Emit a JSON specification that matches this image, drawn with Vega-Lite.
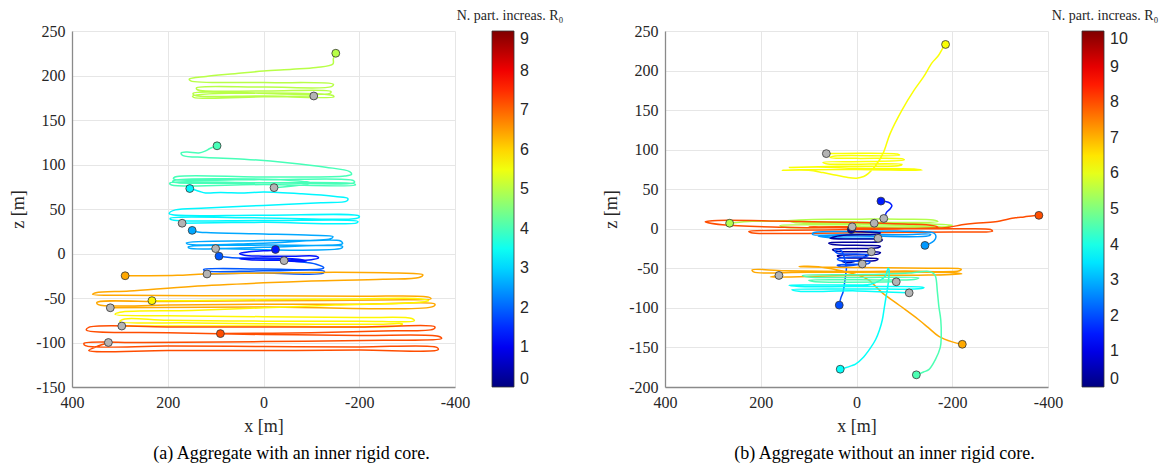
{
  "$schema": "https://vega.github.io/schema/vega-lite/v6.json",
  "background": "white",
  "padding": {"left": 9, "top": 9, "right": 0, "bottom": 0},
  "spacing": 210,
  "bounds": "flush",
  "resolve": {"scale": {"color": "independent", "fill": "independent", "x": "independent", "y": "independent"}, "legend": {"color": "independent"}},
  "config": {
    "view": {"stroke": null},
    "font": "Liberation Serif",
    "axis": {"grid": true, "gridColor": "#e6e6e6", "gridWidth": 1, "domainColor": "#8a8a8a", "domainWidth": 1.3, "ticks": false, "labelFont": "Liberation Serif", "labelFontSize": 16, "labelColor": "#262626", "labelPadding": 7, "labelFlush": false, "titleFont": "Liberation Serif", "titleFontSize": 18, "titleFontWeight": "normal", "titleColor": "#262626"},
    "axisX": {"titlePadding": 7},
    "axisY": {"titlePadding": 8},
    "legend": {"padding": 0},
    "title": {"font": "Liberation Serif", "fontSize": 18, "fontWeight": "normal", "color": "#000000", "orient": "bottom", "offset": 10, "dx": 28}
  },
  "hconcat": [
    {
      "width": 383, "height": 356,
      "title": {"text": "(a)  Aggregate with an inner rigid core."},
      "encoding": {
        "x": {"field": "x", "type": "quantitative", "scale": {"domain": [-400, 400], "reverse": true, "nice": false, "zero": false}, "axis": {"values": [-400, -200, 0, 200, 400], "title": "x [m]", "labelExpr": "'' + datum.value"}},
        "y": {"field": "z", "type": "quantitative", "scale": {"domain": [-150, 250], "nice": false, "zero": false}, "axis": {"values": [-150, -100, -50, 0, 50, 100, 150, 200, 250], "title": "z [m]", "labelExpr": "'' + datum.value"}}
      },
      "layer": [
        {"data": {"name": "la"}, "mark": {"type": "line", "interpolate": "catmull-rom", "strokeWidth": 1.5, "opacity": 1},
         "encoding": {"detail": {"field": "t", "type": "nominal"}, "order": {"field": "i", "type": "quantitative"},
          "color": {"field": "v", "type": "quantitative",
            "scale": {"type": "linear", "domain": [0, 9], "range": ["#000080", "#0000ff", "#0080ff", "#00ffff", "#80ff80", "#ffff00", "#ff8000", "#ff0000", "#800000"], "interpolate": "rgb", "zero": false, "nice": false},
            "legend": {"type": "gradient", "title": "N. part. increas. R₀", "orient": "none", "legendX": 385, "legendY": -22, "direction": "vertical", "gradientLength": 356, "gradientThickness": 22, "gradientStrokeColor": "#333333", "gradientStrokeWidth": 0.8, "values": [0, 1, 2, 3, 4, 5, 6, 7, 8, 9], "labelFont": "Liberation Sans", "labelFontSize": 16, "labelColor": "#262626", "labelOffset": 6, "labelBaseline": "middle", "titleFont": "Liberation Serif", "titleFontSize": 14, "titleFontWeight": "normal", "titleColor": "#262626", "titleAnchor": "middle", "titleAlign": "center", "titlePadding": 8}}}},
        {"data": {"name": "pa"}, "transform": [{"filter": "datum.k == 's'"}], "mark": {"type": "circle", "size": 62, "opacity": 1, "stroke": "#333333", "strokeWidth": 0.8},
         "encoding": {"fill": {"field": "v", "type": "quantitative", "scale": {"type": "linear", "domain": [0, 1.125, 2.25, 3.375, 4.5, 5.625, 6.75, 7.875, 9], "range": ["#000080", "#0000ff", "#0080ff", "#00ffff", "#80ff80", "#ffff00", "#ff8000", "#ff0000", "#800000"], "interpolate": "rgb", "zero": false, "nice": false}, "legend": null}}},
        {"data": {"name": "pa"}, "transform": [{"filter": "datum.k == 'e'"}], "mark": {"type": "circle", "size": 62, "opacity": 1, "fill": "#b4b4b4", "stroke": "#333333", "strokeWidth": 0.8}}
      ]
    },
    {
      "width": 383, "height": 356,
      "title": {"text": "(b) Aggregate without an inner rigid core."},
      "encoding": {
        "x": {"field": "x", "type": "quantitative", "scale": {"domain": [-400, 400], "reverse": true, "nice": false, "zero": false}, "axis": {"values": [-400, -200, 0, 200, 400], "title": "x [m]", "labelExpr": "'' + datum.value"}},
        "y": {"field": "z", "type": "quantitative", "scale": {"domain": [-200, 250], "nice": false, "zero": false}, "axis": {"values": [-200, -150, -100, -50, 0, 50, 100, 150, 200, 250], "title": "z [m]", "labelExpr": "'' + datum.value"}}
      },
      "layer": [
        {"data": {"name": "lb"}, "mark": {"type": "line", "interpolate": "catmull-rom", "strokeWidth": 1.5, "opacity": 1},
         "encoding": {"detail": {"field": "t", "type": "nominal"}, "order": {"field": "i", "type": "quantitative"},
          "color": {"field": "v", "type": "quantitative",
            "scale": {"type": "linear", "domain": [0, 10], "range": ["#000080", "#0000ff", "#0080ff", "#00ffff", "#80ff80", "#ffff00", "#ff8000", "#ff0000", "#800000"], "interpolate": "rgb", "zero": false, "nice": false},
            "legend": {"type": "gradient", "title": "N. part. increas. R₀", "orient": "none", "legendX": 387, "legendY": -22, "direction": "vertical", "gradientLength": 356, "gradientThickness": 22, "gradientStrokeColor": "#333333", "gradientStrokeWidth": 0.8, "values": [0, 1, 2, 3, 4, 5, 6, 7, 8, 9, 10], "labelFont": "Liberation Sans", "labelFontSize": 16, "labelColor": "#262626", "labelOffset": 6, "labelBaseline": "middle", "titleFont": "Liberation Serif", "titleFontSize": 14, "titleFontWeight": "normal", "titleColor": "#262626", "titleAnchor": "middle", "titleAlign": "center", "titlePadding": 8}}}},
        {"data": {"name": "pb"}, "transform": [{"filter": "datum.k == 's'"}], "mark": {"type": "circle", "size": 62, "opacity": 1, "stroke": "#333333", "strokeWidth": 0.8},
         "encoding": {"fill": {"field": "v", "type": "quantitative", "scale": {"type": "linear", "domain": [0, 1.25, 2.5, 3.75, 5, 6.25, 7.5, 8.75, 10], "range": ["#000080", "#0000ff", "#0080ff", "#00ffff", "#80ff80", "#ffff00", "#ff8000", "#ff0000", "#800000"], "interpolate": "rgb", "zero": false, "nice": false}, "legend": null}}},
        {"data": {"name": "pb"}, "transform": [{"filter": "datum.k == 'e'"}], "mark": {"type": "circle", "size": 62, "opacity": 1, "fill": "#b4b4b4", "stroke": "#333333", "strokeWidth": 0.8}}
      ]
    }
  ],
  "datasets": {
    "pa": [
      {"t": "a1", "v": 5.0, "k": "s", "x": -151, "z": 225}, {"t": "a1", "v": 5.0, "k": "e", "x": -105, "z": 177},
      {"t": "a2", "v": 4.0, "k": "s", "x": 97, "z": 121}, {"t": "a2", "v": 4.0, "k": "e", "x": -22, "z": 74},
      {"t": "a3", "v": 3.3, "k": "s", "x": 154, "z": 73}, {"t": "a3", "v": 3.3, "k": "e", "x": 170, "z": 34},
      {"t": "a4", "v": 2.6, "k": "s", "x": 149, "z": 26}, {"t": "a4", "v": 2.6, "k": "e", "x": 100, "z": 5.5},
      {"t": "a5", "v": 1.9, "k": "s", "x": 93, "z": -3}, {"t": "a5", "v": 1.9, "k": "e", "x": 118, "z": -23},
      {"t": "a6", "v": 1.3, "k": "s", "x": -25, "z": 4.5}, {"t": "a6", "v": 1.3, "k": "e", "x": -43, "z": -8},
      {"t": "a7", "v": 6.4, "k": "s", "x": 289, "z": -25}, {"t": "a7", "v": 6.4, "k": "e", "x": 320, "z": -61},
      {"t": "a8", "v": 5.7, "k": "s", "x": 233, "z": -53}, {"t": "a8", "v": 5.7, "k": "e", "x": 296, "z": -81.5},
      {"t": "a9", "v": 7.2, "k": "s", "x": 90, "z": -90}, {"t": "a9", "v": 7.2, "k": "e", "x": 324, "z": -100}
    ],
    "pb": [
      {"t": "b1", "v": 6.2, "k": "s", "x": -186, "z": 233}, {"t": "b1", "v": 6.2, "k": "e", "x": 63, "z": 95},
      {"t": "b2", "v": 1.5, "k": "s", "x": -51, "z": 35}, {"t": "b2", "v": 1.5, "k": "e", "x": -57, "z": 13},
      {"t": "b3", "v": 5.5, "k": "s", "x": 265, "z": 7}, {"t": "b3", "v": 5.5, "k": "e", "x": -37, "z": 7},
      {"t": "b4", "v": 8.0, "k": "s", "x": -381, "z": 17}, {"t": "b4", "v": 8.0, "k": "e", "x": 9, "z": 2.5},
      {"t": "b5", "v": 2.75, "k": "s", "x": -143, "z": -21}, {"t": "b5", "v": 2.75, "k": "e", "x": -45, "z": -12},
      {"t": "b6", "v": 0.3, "k": "s", "x": 11, "z": -1}, {"t": "b6", "v": 0.3, "k": "e", "x": -31, "z": -29},
      {"t": "b7", "v": 2.0, "k": "s", "x": 36, "z": -96.5}, {"t": "b7", "v": 2.0, "k": "e", "x": -12, "z": -44.5},
      {"t": "b8", "v": 7.1, "k": "s", "x": -221, "z": -146}, {"t": "b8", "v": 7.1, "k": "e", "x": 162, "z": -59},
      {"t": "b9", "v": 3.8, "k": "s", "x": 34, "z": -177.5}, {"t": "b9", "v": 3.8, "k": "e", "x": -110, "z": -81},
      {"t": "b10", "v": 4.5, "k": "s", "x": -125, "z": -184.6}, {"t": "b10", "v": 4.5, "k": "e", "x": -83, "z": -67}
    ],
    "la": [
      {"t": "a1", "v": 5.0, "i": 0, "x": -151, "z": 225}, {"t": "a1", "v": 5.0, "i": 1, "x": -146, "z": 219}, {"t": "a1", "v": 5.0, "i": 2, "x": -145, "z": 213}, {"t": "a1", "v": 5.0, "i": 3, "x": -110, "z": 209}, {"t": "a1", "v": 5.0, "i": 4, "x": -60, "z": 207}, {"t": "a1", "v": 5.0, "i": 5, "x": 0, "z": 205}, {"t": "a1", "v": 5.0, "i": 6, "x": 60, "z": 202}, {"t": "a1", "v": 5.0, "i": 7, "x": 120, "z": 199}, {"t": "a1", "v": 5.0, "i": 8, "x": 155, "z": 196}, {"t": "a1", "v": 5.0, "i": 9, "x": 152, "z": 194}, {"t": "a1", "v": 5.0, "i": 10, "x": 0, "z": 192}, {"t": "a1", "v": 5.0, "i": 11, "x": -146, "z": 190}, {"t": "a1", "v": 5.0, "i": 12, "x": -142, "z": 187.5}, {"t": "a1", "v": 5.0, "i": 13, "x": 0, "z": 187}, {"t": "a1", "v": 5.0, "i": 14, "x": 140, "z": 186}, {"t": "a1", "v": 5.0, "i": 15, "x": 138, "z": 184}, {"t": "a1", "v": 5.0, "i": 16, "x": 0, "z": 182.5}, {"t": "a1", "v": 5.0, "i": 17, "x": -141, "z": 182}, {"t": "a1", "v": 5.0, "i": 18, "x": -139, "z": 180}, {"t": "a1", "v": 5.0, "i": 19, "x": 147, "z": 180}, {"t": "a1", "v": 5.0, "i": 20, "x": 145, "z": 178}, {"t": "a1", "v": 5.0, "i": 21, "x": 0, "z": 177}, {"t": "a1", "v": 5.0, "i": 22, "x": -147, "z": 176}, {"t": "a1", "v": 5.0, "i": 23, "x": -145, "z": 177.5}, {"t": "a1", "v": 5.0, "i": 24, "x": 148, "z": 177}, {"t": "a1", "v": 5.0, "i": 25, "x": 146, "z": 175.5}, {"t": "a1", "v": 5.0, "i": 26, "x": 0, "z": 176}, {"t": "a1", "v": 5.0, "i": 27, "x": -105, "z": 177},
      {"t": "a2", "v": 4.0, "i": 0, "x": 97, "z": 121}, {"t": "a2", "v": 4.0, "i": 1, "x": 112, "z": 118}, {"t": "a2", "v": 4.0, "i": 2, "x": 122, "z": 115}, {"t": "a2", "v": 4.0, "i": 3, "x": 135, "z": 113}, {"t": "a2", "v": 4.0, "i": 4, "x": 160, "z": 114}, {"t": "a2", "v": 4.0, "i": 5, "x": 172, "z": 113}, {"t": "a2", "v": 4.0, "i": 6, "x": 168, "z": 110}, {"t": "a2", "v": 4.0, "i": 7, "x": 120, "z": 108}, {"t": "a2", "v": 4.0, "i": 8, "x": 40, "z": 106}, {"t": "a2", "v": 4.0, "i": 9, "x": -50, "z": 102}, {"t": "a2", "v": 4.0, "i": 10, "x": -130, "z": 97}, {"t": "a2", "v": 4.0, "i": 11, "x": -180, "z": 92}, {"t": "a2", "v": 4.0, "i": 12, "x": -184, "z": 89}, {"t": "a2", "v": 4.0, "i": 13, "x": -170, "z": 87}, {"t": "a2", "v": 4.0, "i": 14, "x": 0, "z": 86}, {"t": "a2", "v": 4.0, "i": 15, "x": 185, "z": 86}, {"t": "a2", "v": 4.0, "i": 16, "x": 188, "z": 84}, {"t": "a2", "v": 4.0, "i": 17, "x": 0, "z": 83}, {"t": "a2", "v": 4.0, "i": 18, "x": -188, "z": 82}, {"t": "a2", "v": 4.0, "i": 19, "x": -190, "z": 80}, {"t": "a2", "v": 4.0, "i": 20, "x": 0, "z": 79.5}, {"t": "a2", "v": 4.0, "i": 21, "x": 196, "z": 79}, {"t": "a2", "v": 4.0, "i": 22, "x": 192, "z": 77}, {"t": "a2", "v": 4.0, "i": 23, "x": 0, "z": 77.5}, {"t": "a2", "v": 4.0, "i": 24, "x": -192, "z": 77}, {"t": "a2", "v": 4.0, "i": 25, "x": -188, "z": 78.5}, {"t": "a2", "v": 4.0, "i": 26, "x": 190, "z": 80.5}, {"t": "a2", "v": 4.0, "i": 27, "x": 187, "z": 82}, {"t": "a2", "v": 4.0, "i": 28, "x": -60, "z": 82}, {"t": "a2", "v": 4.0, "i": 29, "x": -100, "z": 79}, {"t": "a2", "v": 4.0, "i": 30, "x": -22, "z": 74},
      {"t": "a3", "v": 3.3, "i": 0, "x": 154, "z": 73}, {"t": "a3", "v": 3.3, "i": 1, "x": 135, "z": 70}, {"t": "a3", "v": 3.3, "i": 2, "x": 121, "z": 68}, {"t": "a3", "v": 3.3, "i": 3, "x": 90, "z": 68.5}, {"t": "a3", "v": 3.3, "i": 4, "x": 40, "z": 68}, {"t": "a3", "v": 3.3, "i": 5, "x": 0, "z": 69}, {"t": "a3", "v": 3.3, "i": 6, "x": -80, "z": 67}, {"t": "a3", "v": 3.3, "i": 7, "x": -150, "z": 64}, {"t": "a3", "v": 3.3, "i": 8, "x": -176, "z": 62}, {"t": "a3", "v": 3.3, "i": 9, "x": -174, "z": 59}, {"t": "a3", "v": 3.3, "i": 10, "x": -120, "z": 57}, {"t": "a3", "v": 3.3, "i": 11, "x": 0, "z": 54}, {"t": "a3", "v": 3.3, "i": 12, "x": 120, "z": 51}, {"t": "a3", "v": 3.3, "i": 13, "x": 184, "z": 49}, {"t": "a3", "v": 3.3, "i": 14, "x": 197, "z": 45}, {"t": "a3", "v": 3.3, "i": 15, "x": 190, "z": 43.5}, {"t": "a3", "v": 3.3, "i": 16, "x": 0, "z": 43}, {"t": "a3", "v": 3.3, "i": 17, "x": -200, "z": 42}, {"t": "a3", "v": 3.3, "i": 18, "x": -198, "z": 40}, {"t": "a3", "v": 3.3, "i": 19, "x": 0, "z": 40}, {"t": "a3", "v": 3.3, "i": 20, "x": 195, "z": 39.5}, {"t": "a3", "v": 3.3, "i": 21, "x": 193, "z": 38}, {"t": "a3", "v": 3.3, "i": 22, "x": 0, "z": 37}, {"t": "a3", "v": 3.3, "i": 23, "x": -197, "z": 36}, {"t": "a3", "v": 3.3, "i": 24, "x": -195, "z": 34.5}, {"t": "a3", "v": 3.3, "i": 25, "x": 0, "z": 35}, {"t": "a3", "v": 3.3, "i": 26, "x": 170, "z": 34},
      {"t": "a4", "v": 2.6, "i": 0, "x": 149, "z": 26}, {"t": "a4", "v": 2.6, "i": 1, "x": 140, "z": 24.5}, {"t": "a4", "v": 2.6, "i": 2, "x": 120, "z": 23.5}, {"t": "a4", "v": 2.6, "i": 3, "x": 0, "z": 22}, {"t": "a4", "v": 2.6, "i": 4, "x": -100, "z": 20.5}, {"t": "a4", "v": 2.6, "i": 5, "x": -145, "z": 19}, {"t": "a4", "v": 2.6, "i": 6, "x": -140, "z": 16.5}, {"t": "a4", "v": 2.6, "i": 7, "x": 0, "z": 14.5}, {"t": "a4", "v": 2.6, "i": 8, "x": 161, "z": 12}, {"t": "a4", "v": 2.6, "i": 9, "x": 158, "z": 10.5}, {"t": "a4", "v": 2.6, "i": 10, "x": 0, "z": 11.5}, {"t": "a4", "v": 2.6, "i": 11, "x": -161, "z": 14}, {"t": "a4", "v": 2.6, "i": 12, "x": -165, "z": 11}, {"t": "a4", "v": 2.6, "i": 13, "x": 0, "z": 9.5}, {"t": "a4", "v": 2.6, "i": 14, "x": 157, "z": 7.5}, {"t": "a4", "v": 2.6, "i": 15, "x": 155, "z": 6}, {"t": "a4", "v": 2.6, "i": 16, "x": 0, "z": 7}, {"t": "a4", "v": 2.6, "i": 17, "x": -165, "z": 8}, {"t": "a4", "v": 2.6, "i": 18, "x": -163, "z": 6}, {"t": "a4", "v": 2.6, "i": 19, "x": 100, "z": 5.5},
      {"t": "a5", "v": 1.9, "i": 0, "x": 93, "z": -3}, {"t": "a5", "v": 1.9, "i": 1, "x": 70, "z": -4.5}, {"t": "a5", "v": 1.9, "i": 2, "x": 30, "z": -5.5}, {"t": "a5", "v": 1.9, "i": 3, "x": -30, "z": -7}, {"t": "a5", "v": 1.9, "i": 4, "x": -70, "z": -9}, {"t": "a5", "v": 1.9, "i": 5, "x": -110, "z": -12}, {"t": "a5", "v": 1.9, "i": 6, "x": -126, "z": -16}, {"t": "a5", "v": 1.9, "i": 7, "x": -120, "z": -17.5}, {"t": "a5", "v": 1.9, "i": 8, "x": 0, "z": -17.5}, {"t": "a5", "v": 1.9, "i": 9, "x": 125, "z": -18}, {"t": "a5", "v": 1.9, "i": 10, "x": 122, "z": -19.5}, {"t": "a5", "v": 1.9, "i": 11, "x": 0, "z": -19.5}, {"t": "a5", "v": 1.9, "i": 12, "x": -127, "z": -20}, {"t": "a5", "v": 1.9, "i": 13, "x": -125, "z": -22}, {"t": "a5", "v": 1.9, "i": 14, "x": 0, "z": -22}, {"t": "a5", "v": 1.9, "i": 15, "x": 118, "z": -23},
      {"t": "a6", "v": 1.3, "i": 0, "x": -25, "z": 4.5}, {"t": "a6", "v": 1.3, "i": 1, "x": -20, "z": 3.5}, {"t": "a6", "v": 1.3, "i": 2, "x": 0, "z": 3}, {"t": "a6", "v": 1.3, "i": 3, "x": 30, "z": 2}, {"t": "a6", "v": 1.3, "i": 4, "x": 50, "z": 0}, {"t": "a6", "v": 1.3, "i": 5, "x": 40, "z": -2}, {"t": "a6", "v": 1.3, "i": 6, "x": 0, "z": -3}, {"t": "a6", "v": 1.3, "i": 7, "x": -60, "z": -3}, {"t": "a6", "v": 1.3, "i": 8, "x": -110, "z": -3}, {"t": "a6", "v": 1.3, "i": 9, "x": -115, "z": -5}, {"t": "a6", "v": 1.3, "i": 10, "x": -100, "z": -7}, {"t": "a6", "v": 1.3, "i": 11, "x": -40, "z": -7.5}, {"t": "a6", "v": 1.3, "i": 12, "x": 30, "z": -7}, {"t": "a6", "v": 1.3, "i": 13, "x": 50, "z": -6}, {"t": "a6", "v": 1.3, "i": 14, "x": 0, "z": -5}, {"t": "a6", "v": 1.3, "i": 15, "x": -60, "z": -6}, {"t": "a6", "v": 1.3, "i": 16, "x": -90, "z": -8}, {"t": "a6", "v": 1.3, "i": 17, "x": -70, "z": -9}, {"t": "a6", "v": 1.3, "i": 18, "x": -43, "z": -8},
      {"t": "a7", "v": 6.4, "i": 0, "x": 289, "z": -25}, {"t": "a7", "v": 6.4, "i": 1, "x": 240, "z": -25}, {"t": "a7", "v": 6.4, "i": 2, "x": 180, "z": -24.5}, {"t": "a7", "v": 6.4, "i": 3, "x": 122, "z": -23}, {"t": "a7", "v": 6.4, "i": 4, "x": 0, "z": -22}, {"t": "a7", "v": 6.4, "i": 5, "x": -150, "z": -21}, {"t": "a7", "v": 6.4, "i": 6, "x": -280, "z": -22}, {"t": "a7", "v": 6.4, "i": 7, "x": -333, "z": -24}, {"t": "a7", "v": 6.4, "i": 8, "x": -325, "z": -27}, {"t": "a7", "v": 6.4, "i": 9, "x": -250, "z": -29}, {"t": "a7", "v": 6.4, "i": 10, "x": -100, "z": -31}, {"t": "a7", "v": 6.4, "i": 11, "x": 0, "z": -33}, {"t": "a7", "v": 6.4, "i": 12, "x": 150, "z": -37}, {"t": "a7", "v": 6.4, "i": 13, "x": 280, "z": -42}, {"t": "a7", "v": 6.4, "i": 14, "x": 350, "z": -44}, {"t": "a7", "v": 6.4, "i": 15, "x": 357, "z": -46}, {"t": "a7", "v": 6.4, "i": 16, "x": 300, "z": -47}, {"t": "a7", "v": 6.4, "i": 17, "x": 0, "z": -47.5}, {"t": "a7", "v": 6.4, "i": 18, "x": -200, "z": -48}, {"t": "a7", "v": 6.4, "i": 19, "x": -345, "z": -49}, {"t": "a7", "v": 6.4, "i": 20, "x": -350, "z": -51}, {"t": "a7", "v": 6.4, "i": 21, "x": -300, "z": -52}, {"t": "a7", "v": 6.4, "i": 22, "x": 0, "z": -53}, {"t": "a7", "v": 6.4, "i": 23, "x": 200, "z": -54}, {"t": "a7", "v": 6.4, "i": 24, "x": 348, "z": -55}, {"t": "a7", "v": 6.4, "i": 25, "x": 345, "z": -57.5}, {"t": "a7", "v": 6.4, "i": 26, "x": 200, "z": -58}, {"t": "a7", "v": 6.4, "i": 27, "x": 0, "z": -57}, {"t": "a7", "v": 6.4, "i": 28, "x": -200, "z": -57}, {"t": "a7", "v": 6.4, "i": 29, "x": -358, "z": -57}, {"t": "a7", "v": 6.4, "i": 30, "x": -355, "z": -59.5}, {"t": "a7", "v": 6.4, "i": 31, "x": 0, "z": -60}, {"t": "a7", "v": 6.4, "i": 32, "x": 320, "z": -61},
      {"t": "a8", "v": 5.7, "i": 0, "x": 233, "z": -53}, {"t": "a8", "v": 5.7, "i": 1, "x": 150, "z": -53}, {"t": "a8", "v": 5.7, "i": 2, "x": 0, "z": -52}, {"t": "a8", "v": 5.7, "i": 3, "x": -200, "z": -51}, {"t": "a8", "v": 5.7, "i": 4, "x": -330, "z": -51}, {"t": "a8", "v": 5.7, "i": 5, "x": -345, "z": -53}, {"t": "a8", "v": 5.7, "i": 6, "x": -320, "z": -55}, {"t": "a8", "v": 5.7, "i": 7, "x": -150, "z": -58}, {"t": "a8", "v": 5.7, "i": 8, "x": 0, "z": -61}, {"t": "a8", "v": 5.7, "i": 9, "x": 150, "z": -64}, {"t": "a8", "v": 5.7, "i": 10, "x": 300, "z": -66}, {"t": "a8", "v": 5.7, "i": 11, "x": 310, "z": -68.5}, {"t": "a8", "v": 5.7, "i": 12, "x": 200, "z": -70}, {"t": "a8", "v": 5.7, "i": 13, "x": 0, "z": -71}, {"t": "a8", "v": 5.7, "i": 14, "x": -200, "z": -72}, {"t": "a8", "v": 5.7, "i": 15, "x": -310, "z": -73}, {"t": "a8", "v": 5.7, "i": 16, "x": -315, "z": -75.5}, {"t": "a8", "v": 5.7, "i": 17, "x": -200, "z": -76}, {"t": "a8", "v": 5.7, "i": 18, "x": 0, "z": -76}, {"t": "a8", "v": 5.7, "i": 19, "x": 200, "z": -75}, {"t": "a8", "v": 5.7, "i": 20, "x": 290, "z": -73.5}, {"t": "a8", "v": 5.7, "i": 21, "x": 300, "z": -76.5}, {"t": "a8", "v": 5.7, "i": 22, "x": 150, "z": -78}, {"t": "a8", "v": 5.7, "i": 23, "x": 0, "z": -79}, {"t": "a8", "v": 5.7, "i": 24, "x": -250, "z": -79.5}, {"t": "a8", "v": 5.7, "i": 25, "x": -290, "z": -79}, {"t": "a8", "v": 5.7, "i": 26, "x": -285, "z": -81}, {"t": "a8", "v": 5.7, "i": 27, "x": 0, "z": -81.5}, {"t": "a8", "v": 5.7, "i": 28, "x": 296, "z": -81.5},
      {"t": "a9", "v": 7.2, "i": 0, "x": 90, "z": -90}, {"t": "a9", "v": 7.2, "i": 1, "x": -100, "z": -89}, {"t": "a9", "v": 7.2, "i": 2, "x": -250, "z": -87}, {"t": "a9", "v": 7.2, "i": 3, "x": -355, "z": -85}, {"t": "a9", "v": 7.2, "i": 4, "x": -358, "z": -82.5}, {"t": "a9", "v": 7.2, "i": 5, "x": -200, "z": -82.5}, {"t": "a9", "v": 7.2, "i": 6, "x": 0, "z": -82.5}, {"t": "a9", "v": 7.2, "i": 7, "x": 200, "z": -82.5}, {"t": "a9", "v": 7.2, "i": 8, "x": 365, "z": -83}, {"t": "a9", "v": 7.2, "i": 9, "x": 370, "z": -86}, {"t": "a9", "v": 7.2, "i": 10, "x": 200, "z": -89}, {"t": "a9", "v": 7.2, "i": 11, "x": 0, "z": -91}, {"t": "a9", "v": 7.2, "i": 12, "x": -200, "z": -92}, {"t": "a9", "v": 7.2, "i": 13, "x": -365, "z": -93}, {"t": "a9", "v": 7.2, "i": 14, "x": -372, "z": -95.5}, {"t": "a9", "v": 7.2, "i": 15, "x": -250, "z": -97.5}, {"t": "a9", "v": 7.2, "i": 16, "x": 0, "z": -99}, {"t": "a9", "v": 7.2, "i": 17, "x": 250, "z": -100}, {"t": "a9", "v": 7.2, "i": 18, "x": 375, "z": -101}, {"t": "a9", "v": 7.2, "i": 19, "x": 372, "z": -103.5}, {"t": "a9", "v": 7.2, "i": 20, "x": 200, "z": -104}, {"t": "a9", "v": 7.2, "i": 21, "x": 0, "z": -104.5}, {"t": "a9", "v": 7.2, "i": 22, "x": -200, "z": -105}, {"t": "a9", "v": 7.2, "i": 23, "x": -362, "z": -105.5}, {"t": "a9", "v": 7.2, "i": 24, "x": -365, "z": -108}, {"t": "a9", "v": 7.2, "i": 25, "x": -200, "z": -108.5}, {"t": "a9", "v": 7.2, "i": 26, "x": 0, "z": -109}, {"t": "a9", "v": 7.2, "i": 27, "x": 200, "z": -109}, {"t": "a9", "v": 7.2, "i": 28, "x": 365, "z": -109}, {"t": "a9", "v": 7.2, "i": 29, "x": 350, "z": -105}, {"t": "a9", "v": 7.2, "i": 30, "x": 324, "z": -100}
    ],
    "lb": [
      {"t": "b1", "v": 6.2, "i": 0, "x": -186, "z": 233}, {"t": "b1", "v": 6.2, "i": 1, "x": -180, "z": 228}, {"t": "b1", "v": 6.2, "i": 2, "x": -170, "z": 218}, {"t": "b1", "v": 6.2, "i": 3, "x": -158, "z": 210}, {"t": "b1", "v": 6.2, "i": 4, "x": -140, "z": 192}, {"t": "b1", "v": 6.2, "i": 5, "x": -120, "z": 175}, {"t": "b1", "v": 6.2, "i": 6, "x": -95, "z": 150}, {"t": "b1", "v": 6.2, "i": 7, "x": -70, "z": 120}, {"t": "b1", "v": 6.2, "i": 8, "x": -56, "z": 96}, {"t": "b1", "v": 6.2, "i": 9, "x": -40, "z": 80}, {"t": "b1", "v": 6.2, "i": 10, "x": -25, "z": 70}, {"t": "b1", "v": 6.2, "i": 11, "x": -15, "z": 66}, {"t": "b1", "v": 6.2, "i": 12, "x": 0, "z": 64}, {"t": "b1", "v": 6.2, "i": 13, "x": 20, "z": 65}, {"t": "b1", "v": 6.2, "i": 14, "x": 45, "z": 68}, {"t": "b1", "v": 6.2, "i": 15, "x": 70, "z": 71}, {"t": "b1", "v": 6.2, "i": 16, "x": 100, "z": 74}, {"t": "b1", "v": 6.2, "i": 17, "x": 155, "z": 74}, {"t": "b1", "v": 6.2, "i": 18, "x": 120, "z": 74.5}, {"t": "b1", "v": 6.2, "i": 19, "x": 0, "z": 75}, {"t": "b1", "v": 6.2, "i": 20, "x": -137, "z": 74}, {"t": "b1", "v": 6.2, "i": 21, "x": -120, "z": 75.5}, {"t": "b1", "v": 6.2, "i": 22, "x": 0, "z": 76.5}, {"t": "b1", "v": 6.2, "i": 23, "x": 80, "z": 78}, {"t": "b1", "v": 6.2, "i": 24, "x": 140, "z": 77.5}, {"t": "b1", "v": 6.2, "i": 25, "x": 40, "z": 79}, {"t": "b1", "v": 6.2, "i": 26, "x": -90, "z": 80}, {"t": "b1", "v": 6.2, "i": 27, "x": -95, "z": 81.5}, {"t": "b1", "v": 6.2, "i": 28, "x": 60, "z": 82}, {"t": "b1", "v": 6.2, "i": 29, "x": 70, "z": 84}, {"t": "b1", "v": 6.2, "i": 30, "x": -20, "z": 85}, {"t": "b1", "v": 6.2, "i": 31, "x": -100, "z": 87}, {"t": "b1", "v": 6.2, "i": 32, "x": -95, "z": 88.5}, {"t": "b1", "v": 6.2, "i": 33, "x": 0, "z": 89}, {"t": "b1", "v": 6.2, "i": 34, "x": 55, "z": 90}, {"t": "b1", "v": 6.2, "i": 35, "x": 45, "z": 92}, {"t": "b1", "v": 6.2, "i": 36, "x": -90, "z": 93}, {"t": "b1", "v": 6.2, "i": 37, "x": -85, "z": 94.5}, {"t": "b1", "v": 6.2, "i": 38, "x": 63, "z": 95},
      {"t": "b2", "v": 1.5, "i": 0, "x": -51, "z": 35}, {"t": "b2", "v": 1.5, "i": 1, "x": -60, "z": 34.5}, {"t": "b2", "v": 1.5, "i": 2, "x": -70, "z": 32.5}, {"t": "b2", "v": 1.5, "i": 3, "x": -74, "z": 29}, {"t": "b2", "v": 1.5, "i": 4, "x": -70, "z": 25}, {"t": "b2", "v": 1.5, "i": 5, "x": -63, "z": 21}, {"t": "b2", "v": 1.5, "i": 6, "x": -60, "z": 17}, {"t": "b2", "v": 1.5, "i": 7, "x": -57, "z": 13},
      {"t": "b3", "v": 5.5, "i": 0, "x": 265, "z": 7}, {"t": "b3", "v": 5.5, "i": 1, "x": 240, "z": 8.5}, {"t": "b3", "v": 5.5, "i": 2, "x": 218, "z": 9.5}, {"t": "b3", "v": 5.5, "i": 3, "x": 180, "z": 9.5}, {"t": "b3", "v": 5.5, "i": 4, "x": 150, "z": 10}, {"t": "b3", "v": 5.5, "i": 5, "x": 120, "z": 11}, {"t": "b3", "v": 5.5, "i": 6, "x": 60, "z": 12}, {"t": "b3", "v": 5.5, "i": 7, "x": 0, "z": 12}, {"t": "b3", "v": 5.5, "i": 8, "x": -60, "z": 12.5}, {"t": "b3", "v": 5.5, "i": 9, "x": -100, "z": 12}, {"t": "b3", "v": 5.5, "i": 10, "x": -160, "z": 11}, {"t": "b3", "v": 5.5, "i": 11, "x": -170, "z": 9}, {"t": "b3", "v": 5.5, "i": 12, "x": -100, "z": 8}, {"t": "b3", "v": 5.5, "i": 13, "x": 0, "z": 8.5}, {"t": "b3", "v": 5.5, "i": 14, "x": 100, "z": 9}, {"t": "b3", "v": 5.5, "i": 15, "x": 140, "z": 10}, {"t": "b3", "v": 5.5, "i": 16, "x": 130, "z": 8}, {"t": "b3", "v": 5.5, "i": 17, "x": 0, "z": 7}, {"t": "b3", "v": 5.5, "i": 18, "x": -150, "z": 6}, {"t": "b3", "v": 5.5, "i": 19, "x": -200, "z": 4.5}, {"t": "b3", "v": 5.5, "i": 20, "x": -190, "z": 3}, {"t": "b3", "v": 5.5, "i": 21, "x": 0, "z": 2.5}, {"t": "b3", "v": 5.5, "i": 22, "x": 150, "z": 2}, {"t": "b3", "v": 5.5, "i": 23, "x": 160, "z": 4}, {"t": "b3", "v": 5.5, "i": 24, "x": 50, "z": 5}, {"t": "b3", "v": 5.5, "i": 25, "x": -120, "z": 4}, {"t": "b3", "v": 5.5, "i": 26, "x": -180, "z": 2.5}, {"t": "b3", "v": 5.5, "i": 27, "x": -150, "z": 1}, {"t": "b3", "v": 5.5, "i": 28, "x": 0, "z": 3}, {"t": "b3", "v": 5.5, "i": 29, "x": -37, "z": 7},
      {"t": "b4", "v": 8.0, "i": 0, "x": -381, "z": 17}, {"t": "b4", "v": 8.0, "i": 1, "x": -370, "z": 16.5}, {"t": "b4", "v": 8.0, "i": 2, "x": -350, "z": 15}, {"t": "b4", "v": 8.0, "i": 3, "x": -332, "z": 14}, {"t": "b4", "v": 8.0, "i": 4, "x": -290, "z": 9}, {"t": "b4", "v": 8.0, "i": 5, "x": -248, "z": 7}, {"t": "b4", "v": 8.0, "i": 6, "x": -220, "z": 5}, {"t": "b4", "v": 8.0, "i": 7, "x": -193, "z": 2}, {"t": "b4", "v": 8.0, "i": 8, "x": -150, "z": 0.5}, {"t": "b4", "v": 8.0, "i": 9, "x": 0, "z": 1}, {"t": "b4", "v": 8.0, "i": 10, "x": 150, "z": 2}, {"t": "b4", "v": 8.0, "i": 11, "x": 280, "z": 5}, {"t": "b4", "v": 8.0, "i": 12, "x": 316, "z": 9}, {"t": "b4", "v": 8.0, "i": 13, "x": 290, "z": 10.5}, {"t": "b4", "v": 8.0, "i": 14, "x": 150, "z": 9.5}, {"t": "b4", "v": 8.0, "i": 15, "x": 0, "z": 8}, {"t": "b4", "v": 8.0, "i": 16, "x": -100, "z": 6}, {"t": "b4", "v": 8.0, "i": 17, "x": -160, "z": 4}, {"t": "b4", "v": 8.0, "i": 18, "x": -170, "z": 2}, {"t": "b4", "v": 8.0, "i": 19, "x": -100, "z": 0}, {"t": "b4", "v": 8.0, "i": 20, "x": 0, "z": -1}, {"t": "b4", "v": 8.0, "i": 21, "x": 150, "z": -2}, {"t": "b4", "v": 8.0, "i": 22, "x": 225, "z": -3.5}, {"t": "b4", "v": 8.0, "i": 23, "x": 220, "z": -5}, {"t": "b4", "v": 8.0, "i": 24, "x": 0, "z": -5}, {"t": "b4", "v": 8.0, "i": 25, "x": -200, "z": -4}, {"t": "b4", "v": 8.0, "i": 26, "x": -284, "z": -3}, {"t": "b4", "v": 8.0, "i": 27, "x": -280, "z": -1}, {"t": "b4", "v": 8.0, "i": 28, "x": -200, "z": 0}, {"t": "b4", "v": 8.0, "i": 29, "x": 0, "z": 1}, {"t": "b4", "v": 8.0, "i": 30, "x": 100, "z": 2.5}, {"t": "b4", "v": 8.0, "i": 31, "x": 9, "z": 2.5},
      {"t": "b5", "v": 2.75, "i": 0, "x": -143, "z": -21}, {"t": "b5", "v": 2.75, "i": 1, "x": -152, "z": -19}, {"t": "b5", "v": 2.75, "i": 2, "x": -162, "z": -15}, {"t": "b5", "v": 2.75, "i": 3, "x": -166, "z": -10}, {"t": "b5", "v": 2.75, "i": 4, "x": -163, "z": -6}, {"t": "b5", "v": 2.75, "i": 5, "x": -150, "z": -4}, {"t": "b5", "v": 2.75, "i": 6, "x": -100, "z": -3}, {"t": "b5", "v": 2.75, "i": 7, "x": 0, "z": -3.5}, {"t": "b5", "v": 2.75, "i": 8, "x": 90, "z": -5}, {"t": "b5", "v": 2.75, "i": 9, "x": 92, "z": -7}, {"t": "b5", "v": 2.75, "i": 10, "x": 0, "z": -7}, {"t": "b5", "v": 2.75, "i": 11, "x": -100, "z": -7.5}, {"t": "b5", "v": 2.75, "i": 12, "x": -155, "z": -7}, {"t": "b5", "v": 2.75, "i": 13, "x": -150, "z": -9}, {"t": "b5", "v": 2.75, "i": 14, "x": 0, "z": -9}, {"t": "b5", "v": 2.75, "i": 15, "x": 80, "z": -9.5}, {"t": "b5", "v": 2.75, "i": 16, "x": 60, "z": -11}, {"t": "b5", "v": 2.75, "i": 17, "x": -45, "z": -12},
      {"t": "b6", "v": 0.3, "i": 0, "x": 11, "z": -1}, {"t": "b6", "v": 0.3, "i": 1, "x": 5, "z": -3}, {"t": "b6", "v": 0.3, "i": 2, "x": -20, "z": -4}, {"t": "b6", "v": 0.3, "i": 3, "x": -50, "z": -5}, {"t": "b6", "v": 0.3, "i": 4, "x": -40, "z": -7}, {"t": "b6", "v": 0.3, "i": 5, "x": 20, "z": -8}, {"t": "b6", "v": 0.3, "i": 6, "x": 45, "z": -10}, {"t": "b6", "v": 0.3, "i": 7, "x": 55, "z": -12}, {"t": "b6", "v": 0.3, "i": 8, "x": 0, "z": -13}, {"t": "b6", "v": 0.3, "i": 9, "x": -54, "z": -14}, {"t": "b6", "v": 0.3, "i": 10, "x": -50, "z": -16}, {"t": "b6", "v": 0.3, "i": 11, "x": 10, "z": -17}, {"t": "b6", "v": 0.3, "i": 12, "x": 58, "z": -18}, {"t": "b6", "v": 0.3, "i": 13, "x": 50, "z": -20}, {"t": "b6", "v": 0.3, "i": 14, "x": -20, "z": -21}, {"t": "b6", "v": 0.3, "i": 15, "x": -50, "z": -22}, {"t": "b6", "v": 0.3, "i": 16, "x": -45, "z": -24}, {"t": "b6", "v": 0.3, "i": 17, "x": 20, "z": -25}, {"t": "b6", "v": 0.3, "i": 18, "x": 50, "z": -26}, {"t": "b6", "v": 0.3, "i": 19, "x": 45, "z": -28}, {"t": "b6", "v": 0.3, "i": 20, "x": -10, "z": -29}, {"t": "b6", "v": 0.3, "i": 21, "x": -50, "z": -30}, {"t": "b6", "v": 0.3, "i": 22, "x": -45, "z": -32}, {"t": "b6", "v": 0.3, "i": 23, "x": 20, "z": -33}, {"t": "b6", "v": 0.3, "i": 24, "x": 40, "z": -34}, {"t": "b6", "v": 0.3, "i": 25, "x": 35, "z": -36}, {"t": "b6", "v": 0.3, "i": 26, "x": -20, "z": -37}, {"t": "b6", "v": 0.3, "i": 27, "x": -45, "z": -38}, {"t": "b6", "v": 0.3, "i": 28, "x": -40, "z": -40}, {"t": "b6", "v": 0.3, "i": 29, "x": 30, "z": -41}, {"t": "b6", "v": 0.3, "i": 30, "x": 20, "z": -43}, {"t": "b6", "v": 0.3, "i": 31, "x": -10, "z": -38}, {"t": "b6", "v": 0.3, "i": 32, "x": -31, "z": -29},
      {"t": "b7", "v": 2.0, "i": 0, "x": 36, "z": -96.5}, {"t": "b7", "v": 2.0, "i": 1, "x": 33, "z": -88}, {"t": "b7", "v": 2.0, "i": 2, "x": 28, "z": -80}, {"t": "b7", "v": 2.0, "i": 3, "x": 26, "z": -73}, {"t": "b7", "v": 2.0, "i": 4, "x": 23, "z": -60}, {"t": "b7", "v": 2.0, "i": 5, "x": 21, "z": -48}, {"t": "b7", "v": 2.0, "i": 6, "x": 25, "z": -38}, {"t": "b7", "v": 2.0, "i": 7, "x": 30, "z": -29}, {"t": "b7", "v": 2.0, "i": 8, "x": 38, "z": -26}, {"t": "b7", "v": 2.0, "i": 9, "x": 45, "z": -28}, {"t": "b7", "v": 2.0, "i": 10, "x": 40, "z": -31}, {"t": "b7", "v": 2.0, "i": 11, "x": 0, "z": -32}, {"t": "b7", "v": 2.0, "i": 12, "x": -25, "z": -33}, {"t": "b7", "v": 2.0, "i": 13, "x": -20, "z": -35}, {"t": "b7", "v": 2.0, "i": 14, "x": 20, "z": -36}, {"t": "b7", "v": 2.0, "i": 15, "x": 40, "z": -38}, {"t": "b7", "v": 2.0, "i": 16, "x": 35, "z": -40}, {"t": "b7", "v": 2.0, "i": 17, "x": -10, "z": -41}, {"t": "b7", "v": 2.0, "i": 18, "x": -28, "z": -42}, {"t": "b7", "v": 2.0, "i": 19, "x": -25, "z": -44}, {"t": "b7", "v": 2.0, "i": 20, "x": 20, "z": -45}, {"t": "b7", "v": 2.0, "i": 21, "x": 40, "z": -46}, {"t": "b7", "v": 2.0, "i": 22, "x": 35, "z": -47.5}, {"t": "b7", "v": 2.0, "i": 23, "x": -12, "z": -44.5},
      {"t": "b8", "v": 7.1, "i": 0, "x": -221, "z": -146}, {"t": "b8", "v": 7.1, "i": 1, "x": -200, "z": -143}, {"t": "b8", "v": 7.1, "i": 2, "x": -172, "z": -136}, {"t": "b8", "v": 7.1, "i": 3, "x": -150, "z": -125}, {"t": "b8", "v": 7.1, "i": 4, "x": -130, "z": -115}, {"t": "b8", "v": 7.1, "i": 5, "x": -90, "z": -97}, {"t": "b8", "v": 7.1, "i": 6, "x": -54, "z": -81}, {"t": "b8", "v": 7.1, "i": 7, "x": -35, "z": -70}, {"t": "b8", "v": 7.1, "i": 8, "x": -26, "z": -65}, {"t": "b8", "v": 7.1, "i": 9, "x": 0, "z": -58}, {"t": "b8", "v": 7.1, "i": 10, "x": 40, "z": -52}, {"t": "b8", "v": 7.1, "i": 11, "x": 80, "z": -48}, {"t": "b8", "v": 7.1, "i": 12, "x": 110, "z": -47.5}, {"t": "b8", "v": 7.1, "i": 13, "x": 120, "z": -48}, {"t": "b8", "v": 7.1, "i": 14, "x": 0, "z": -49}, {"t": "b8", "v": 7.1, "i": 15, "x": -150, "z": -50}, {"t": "b8", "v": 7.1, "i": 16, "x": -219, "z": -51}, {"t": "b8", "v": 7.1, "i": 17, "x": -215, "z": -53}, {"t": "b8", "v": 7.1, "i": 18, "x": -100, "z": -53.5}, {"t": "b8", "v": 7.1, "i": 19, "x": 0, "z": -54}, {"t": "b8", "v": 7.1, "i": 20, "x": 150, "z": -53}, {"t": "b8", "v": 7.1, "i": 21, "x": 218, "z": -52}, {"t": "b8", "v": 7.1, "i": 22, "x": 215, "z": -54.5}, {"t": "b8", "v": 7.1, "i": 23, "x": 100, "z": -55}, {"t": "b8", "v": 7.1, "i": 24, "x": -200, "z": -55.5}, {"t": "b8", "v": 7.1, "i": 25, "x": -220, "z": -57}, {"t": "b8", "v": 7.1, "i": 26, "x": -150, "z": -58.5}, {"t": "b8", "v": 7.1, "i": 27, "x": 0, "z": -59}, {"t": "b8", "v": 7.1, "i": 28, "x": 120, "z": -60.5}, {"t": "b8", "v": 7.1, "i": 29, "x": 180, "z": -61}, {"t": "b8", "v": 7.1, "i": 30, "x": 162, "z": -59},
      {"t": "b9", "v": 3.8, "i": 0, "x": 34, "z": -177.5}, {"t": "b9", "v": 3.8, "i": 1, "x": 25, "z": -176}, {"t": "b9", "v": 3.8, "i": 2, "x": 10, "z": -173}, {"t": "b9", "v": 3.8, "i": 3, "x": 2, "z": -171}, {"t": "b9", "v": 3.8, "i": 4, "x": -15, "z": -162}, {"t": "b9", "v": 3.8, "i": 5, "x": -30, "z": -150}, {"t": "b9", "v": 3.8, "i": 6, "x": -40, "z": -140}, {"t": "b9", "v": 3.8, "i": 7, "x": -48, "z": -128}, {"t": "b9", "v": 3.8, "i": 8, "x": -54, "z": -115}, {"t": "b9", "v": 3.8, "i": 9, "x": -58, "z": -100}, {"t": "b9", "v": 3.8, "i": 10, "x": -62, "z": -85}, {"t": "b9", "v": 3.8, "i": 11, "x": -66, "z": -70}, {"t": "b9", "v": 3.8, "i": 12, "x": -68, "z": -52}, {"t": "b9", "v": 3.8, "i": 13, "x": -66, "z": -50}, {"t": "b9", "v": 3.8, "i": 14, "x": -60, "z": -60}, {"t": "b9", "v": 3.8, "i": 15, "x": -30, "z": -70}, {"t": "b9", "v": 3.8, "i": 16, "x": 0, "z": -71}, {"t": "b9", "v": 3.8, "i": 17, "x": 100, "z": -71}, {"t": "b9", "v": 3.8, "i": 18, "x": 141, "z": -71.5}, {"t": "b9", "v": 3.8, "i": 19, "x": 120, "z": -73}, {"t": "b9", "v": 3.8, "i": 20, "x": 0, "z": -73}, {"t": "b9", "v": 3.8, "i": 21, "x": -141, "z": -74}, {"t": "b9", "v": 3.8, "i": 22, "x": -135, "z": -75.5}, {"t": "b9", "v": 3.8, "i": 23, "x": 0, "z": -76}, {"t": "b9", "v": 3.8, "i": 24, "x": 135, "z": -77}, {"t": "b9", "v": 3.8, "i": 25, "x": 120, "z": -79}, {"t": "b9", "v": 3.8, "i": 26, "x": 0, "z": -78.5}, {"t": "b9", "v": 3.8, "i": 27, "x": -110, "z": -81},
      {"t": "b10", "v": 4.5, "i": 0, "x": -125, "z": -184.6}, {"t": "b10", "v": 4.5, "i": 1, "x": -140, "z": -181}, {"t": "b10", "v": 4.5, "i": 2, "x": -151, "z": -178}, {"t": "b10", "v": 4.5, "i": 3, "x": -165, "z": -165}, {"t": "b10", "v": 4.5, "i": 4, "x": -175, "z": -150}, {"t": "b10", "v": 4.5, "i": 5, "x": -177, "z": -136}, {"t": "b10", "v": 4.5, "i": 6, "x": -176, "z": -115}, {"t": "b10", "v": 4.5, "i": 7, "x": -172, "z": -98}, {"t": "b10", "v": 4.5, "i": 8, "x": -169, "z": -80}, {"t": "b10", "v": 4.5, "i": 9, "x": -165, "z": -60}, {"t": "b10", "v": 4.5, "i": 10, "x": -160, "z": -56}, {"t": "b10", "v": 4.5, "i": 11, "x": -151, "z": -54}, {"t": "b10", "v": 4.5, "i": 12, "x": -130, "z": -54.5}, {"t": "b10", "v": 4.5, "i": 13, "x": -110, "z": -56}, {"t": "b10", "v": 4.5, "i": 14, "x": -50, "z": -57.5}, {"t": "b10", "v": 4.5, "i": 15, "x": 0, "z": -58}, {"t": "b10", "v": 4.5, "i": 16, "x": 113, "z": -59}, {"t": "b10", "v": 4.5, "i": 17, "x": 100, "z": -61}, {"t": "b10", "v": 4.5, "i": 18, "x": 0, "z": -61.5}, {"t": "b10", "v": 4.5, "i": 19, "x": -130, "z": -62}, {"t": "b10", "v": 4.5, "i": 20, "x": -120, "z": -64}, {"t": "b10", "v": 4.5, "i": 21, "x": 0, "z": -64.5}, {"t": "b10", "v": 4.5, "i": 22, "x": 100, "z": -65}, {"t": "b10", "v": 4.5, "i": 23, "x": 90, "z": -66.5}, {"t": "b10", "v": 4.5, "i": 24, "x": -83, "z": -67}
    ]
  }
}
